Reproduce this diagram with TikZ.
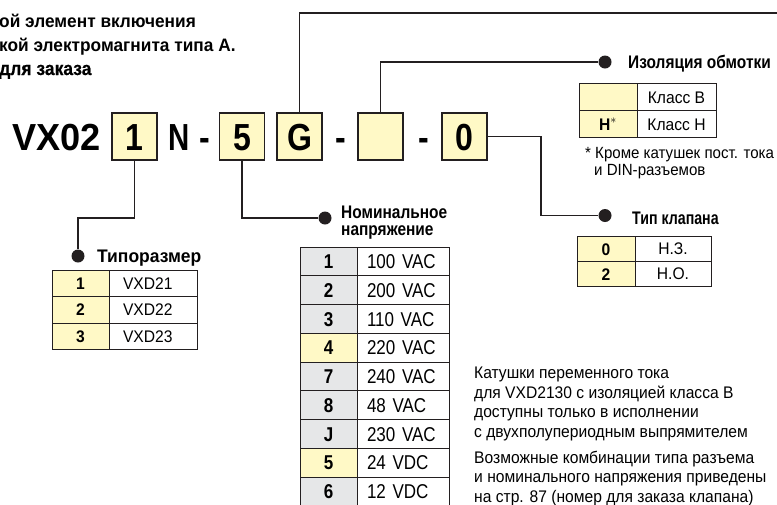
\documentclass[tikz,border=0pt]{standalone}
\usepackage{fontspec}
\setmainfont{Liberation Sans}
\newfontfamily\narrowfont{Liberation Sans}[FakeStretch=0.85]
\newfontfamily\plainfont{Liberation Sans}[FakeStretch=0.93]
\newfontfamily\widefont{Liberation Sans}[FakeStretch=0.96]
\newfontfamily\slimfont{Liberation Sans}[FakeStretch=0.78]
\newfontfamily\blackfont{Liberation Sans}[UprightFont={* Bold}, FakeBold=0.6, FakeStretch=0.92]
\usetikzlibrary{positioning}

\definecolor{codeyellow}{HTML}{FFF9C6}
\definecolor{cellgray}{HTML}{E6E7E8}
\definecolor{inkline}{HTML}{231F20}

\newcommand\bigcode{\narrowfont\bfseries\fontsize{37.7}{40}\selectfont}
\newcommand\headfont{\narrowfont\bfseries\fontsize{18.2}{17}\selectfont}
\newcommand\topfont{\widefont\bfseries\fontsize{18}{24}\selectfont}
\newcommand\cellfont{\plainfont\fontsize{16.8}{19.5}\selectfont}
\newcommand\voltfont{\narrowfont\fontsize{20}{24}\selectfont}

\tikzset{
  codebox/.style={draw=inkline, line width=1.4pt, fill=codeyellow, minimum width=45pt,
    minimum height=47pt, inner sep=0pt, text height=27pt, text depth=0pt, font=\bigcode},
  codechar/.style={anchor=base west, inner sep=0pt, font=\bigcode},
  wire/.style={draw=inkline, line width=1.3pt},
  pin/.style={circle, fill=inkline, minimum size=13pt, inner sep=0pt},
  heading/.style={anchor=base west, inner sep=0pt, font=\headfont, align=left},
  topline/.style={anchor=base west, inner sep=0pt, font=\topfont},
  note/.style={anchor=base west, inner sep=0pt, font=\cellfont, align=left},
  cell/.style={draw=inkline, line width=0.8pt, outer sep=0pt, inner ysep=0pt, text depth=0pt},
  keycell/.style={cell, fill=codeyellow, inner xsep=0pt, font=\cellfont\bfseries, text height=12pt},
  valcell/.style={cell, fill=white, font=\cellfont, text height=12pt},
  sizekey/.style={keycell, minimum width=57pt, minimum height=26.5pt},
  sizeval/.style={valcell, minimum height=26.5pt, text width=60pt, inner xsep=14pt, align=left},
  voltkey/.style={keycell, fill=cellgray, font=\voltfont\bfseries, text height=14.3pt,
    minimum width=57pt, minimum height=28.75pt},
  voltval/.style={valcell, font=\voltfont, text height=14.3pt, minimum height=28.75pt,
    text width=72pt, inner xsep=10pt, align=left},
  coilkey/.style={keycell, minimum width=58pt, minimum height=27pt},
  coilval/.style={valcell, minimum width=79pt, minimum height=27pt},
  valvekey/.style={keycell, minimum width=58pt, minimum height=25pt},
  valveval/.style={valcell, minimum width=76pt, minimum height=25pt, text height=11pt},
}

\begin{document}
\begin{tikzpicture}[x=1pt, y=-1pt]
\useasboundingbox (0,0) rectangle (777,504);

% heading
\node[topline] (hd1) at (-1,27) {ой элемент включения};
\node[topline] (hd2) at (-1,51) {кой электромагнита типа A.};
\node[topline, font=\blackfont\fontsize{19}{24}\selectfont] (hd3) at (-1,75) {для заказа};

% order code
\node[codechar, font=\widefont\bfseries\fontsize{37.7}{40}\selectfont] (vx) at (12,150) {VX02};
\node[codebox]          (box1)  at (134.5,136.5) {1};
\node[codechar, font=\slimfont\bfseries\fontsize{37.7}{40}\selectfont] (nn) at (168,150) {N};
\node[codechar]         (dash1) at (199,150) {-};
\node[codebox]          (box5)  at (242,136.5) {5};
\node[codebox]          (boxG)  at (299.5,136.5) {G};
\node[codechar]         (dash2) at (335,150) {-};
\node[codebox]          (boxE)  at (380.5,136.5) {};
\node[codechar]         (dash3) at (418,150) {-};
\node[codebox]          (box0)  at (464.5,136.5) {0};

% pins and headings
\coordinate (topend) at (780,13);
\node[pin] (izdot) at (605,62) {};
\node[heading] (izlbl) at (628,68) {Изоляция обмотки};
\coordinate (tkbend) at (541,136.5);
\node[pin] (tkdot) at (605,215.5) {};
\node[heading, font=\slimfont\bfseries\fontsize{18.2}{17}\selectfont] (tklbl) at (632,224) {Тип клапана};
\coordinate (szbend) at (134.5,218);
\node[pin] (szdot) at (78,256) {};
\node[heading, font=\widefont\bfseries\fontsize{18.2}{17}\selectfont] (szlbl) at (97,262) {Типоразмер};
\node[pin] (nvdot) at (325,218) {};
\node[heading] (nvlbl) at (341,235) {Номинальное\\напряжение};

\draw[wire] (boxG.north) |- (topend);
\draw[wire] (boxE.north) |- (izdot);
\draw[wire] (box0.east) -- (tkbend) |- (tkdot);
\draw[wire] (box1.south) -- (szbend) -| (szdot);
\draw[wire] (box5.south) |- (nvdot);

% size table
\node[sizekey] (sz1k) at (80.5,283.25) {1};
\node[sizeval] (sz1v) [right=0pt of sz1k] {VXD21};
\node[sizekey] (sz2k) [below=0pt of sz1k] {2};
\node[sizeval] (sz2v) [right=0pt of sz2k] {VXD22};
\node[sizekey] (sz3k) [below=0pt of sz2k] {3};
\node[sizeval] (sz3v) [right=0pt of sz3k] {VXD23};

% voltage table
\node[voltkey] (nv1k) at (328.5,261.4) {1};
\node[voltval] (nv1v) [right=0pt of nv1k] {100 VAC};
\node[voltkey] (nv2k) [below=0pt of nv1k] {2};
\node[voltval] (nv2v) [right=0pt of nv2k] {200 VAC};
\node[voltkey] (nv3k) [below=0pt of nv2k] {3};
\node[voltval] (nv3v) [right=0pt of nv3k] {110 VAC};
\node[voltkey, fill=codeyellow] (nv4k) [below=0pt of nv3k] {4};
\node[voltval] (nv4v) [right=0pt of nv4k] {220 VAC};
\node[voltkey] (nv7k) [below=0pt of nv4k] {7};
\node[voltval] (nv7v) [right=0pt of nv7k] {240 VAC};
\node[voltkey] (nv8k) [below=0pt of nv7k] {8};
\node[voltval] (nv8v) [right=0pt of nv8k] {48 VAC};
\node[voltkey] (nvJk) [below=0pt of nv8k] {J};
\node[voltval] (nvJv) [right=0pt of nvJk] {230 VAC};
\node[voltkey, fill=codeyellow] (nv5k) [below=0pt of nvJk] {5};
\node[voltval] (nv5v) [right=0pt of nv5k] {24 VDC};
\node[voltkey] (nv6k) [below=0pt of nv5k] {6};
\node[voltval] (nv6v) [right=0pt of nv6k] {12 VDC};

% coil insulation table
\node[coilkey] (izBk) at (608,97) {};
\node[coilval] (izBv) [right=0pt of izBk] {Класс B};
\node[coilkey] (izHk) [below=0pt of izBk] {H$^*$};
\node[coilval] (izHv) [right=0pt of izHk] {Класс H};
\node[note, font=\plainfont\fontsize{16.2}{17}\selectfont] (iznote1) at (585,158) {* Кроме катушек пост. тока};
\node[note, font=\plainfont\fontsize{16.2}{17}\selectfont] (iznote2) at (594,175) {и DIN-разъемов};

% valve type table
\node[valvekey] (tk0k) at (606,249) {0};
\node[valveval] (tk0v) [right=0pt of tk0k] {Н.З.};
\node[valvekey] (tk2k) [below=0pt of tk0k] {2};
\node[valveval] (tk2v) [right=0pt of tk2k] {Н.О.};

% notes
\node[note] (acnote) at (474,437) {Катушки переменного тока\\для VXD2130 с изоляцией класса B\\доступны только в исполнении\\с двухполупериодным выпрямителем};
\node[note] (combnote) at (474,502) {Возможные комбинации типа разъема\\и номинального напряжения приведены\\на стр. 87 (номер для заказа клапана)};
\end{tikzpicture}
\end{document}
